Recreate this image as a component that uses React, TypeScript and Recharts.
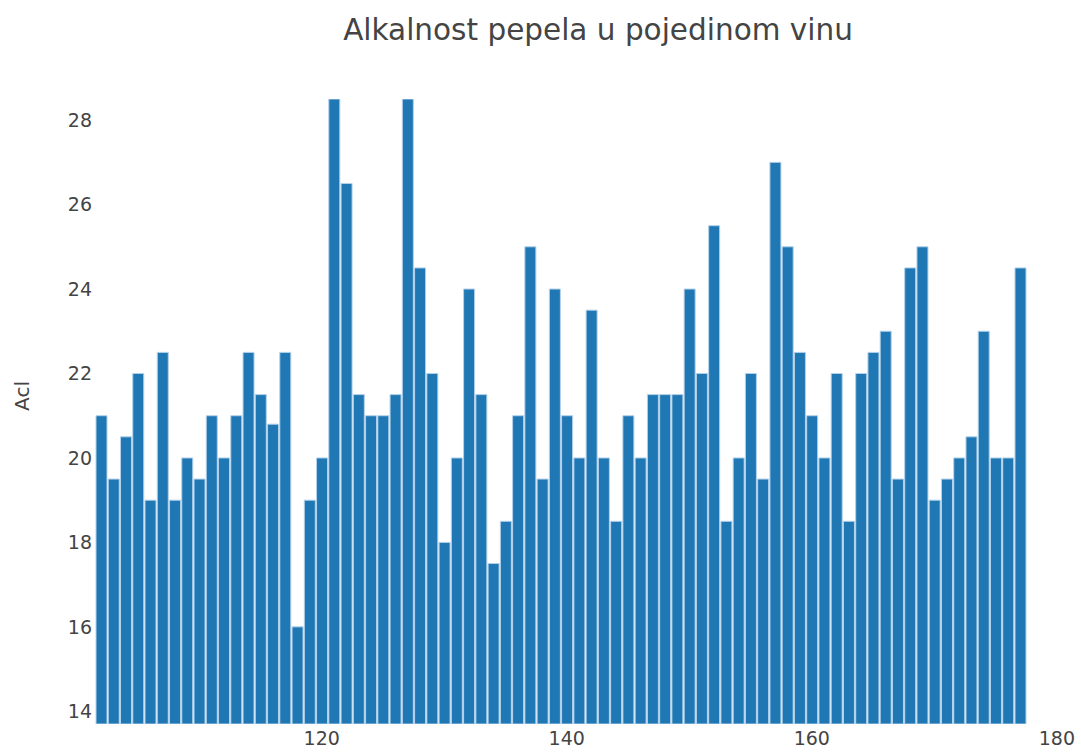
import { BarChart, Bar, XAxis, YAxis } from 'recharts';

// wine index (x) and ash alkalinity (Acl) per wine
const wineIds: number[] = [
    102, 103, 104, 105, 106, 107, 108, 109, 110, 111, 112, 113, 114, 115, 116, 117, 118, 119, 120,
    121, 122, 123, 124, 125, 126, 127, 128, 129, 130, 131, 132, 133, 134, 135, 136, 137, 138, 139,
    140, 141, 142, 143, 144, 145, 146, 147, 148, 149, 150, 151, 152, 153, 154, 155, 156, 157, 158,
    159, 160, 161, 162, 163, 164, 165, 166, 167, 168, 169, 170, 171, 172, 173, 174, 175, 176, 177,
];
const aclValues: number[] = [
    21, 19.5, 20.5, 22, 19, 22.5, 19, 20, 19.5, 21, 20, 21, 22.5, 21.5, 20.8, 22.5, 16, 19, 20,
    28.5, 26.5, 21.5, 21, 21, 21.5, 28.5, 24.5, 22, 18, 20, 24, 21.5, 17.5, 18.5, 21, 25, 19.5, 24,
    21, 20, 23.5, 20, 18.5, 21, 20, 21.5, 21.5, 21.5, 24, 22, 25.5, 18.5, 20, 22, 19.5, 27, 25,
    22.5, 21, 20, 22, 18.5, 22, 22.5, 23, 19.5, 24.5, 25, 19, 19.5, 20, 20.5, 23, 20, 20, 24.5,
];
const xTicks: number[] = [120, 140, 160, 180];
const yTicks: number[] = [14, 16, 18, 20, 22, 24, 26, 28];

const chartTitle = 'Alkalnost pepela u pojedinom vinu';
const yTitle = 'Acl';

const data = wineIds.map((id, i) => ({ x: id, acl: aclValues[i] }));

const fontFamily = '"DejaVu Sans", Verdana, sans-serif';
const textColor = '#444';

function App() {
    return (
        <div style={{ position: 'absolute', left: 0, top: 0, width: 1081, height: 752, background: '#fff' }}>
            <div style={{
                position: 'absolute', left: 0, width: 1196, top: 13, textAlign: 'center',
                fontFamily, fontSize: 29.5, color: textColor, whiteSpace: 'nowrap',
            }}>
                {chartTitle}
            </div>
            <div style={{
                position: 'absolute', left: 22, top: 396, transform: 'translate(-50%, -50%) rotate(-90deg)',
                fontFamily, fontSize: 20, color: textColor,
            }}>
                {yTitle}
            </div>
            <BarChart
                width={1081}
                height={752}
                data={data}
                margin={{ top: 99, right: 18, bottom: 0, left: 0 }}
                barCategoryGap={0}
            >
                <XAxis
                    dataKey="x"
                    type="number"
                    domain={[101.5, 180.5]}
                    ticks={xTicks}
                    allowDataOverflow
                    axisLine={false}
                    tickLine={false}
                    tickSize={0}
                    tickMargin={8}
                    height={28}
                    tick={{ fill: textColor, fontSize: 19, fontFamily }}
                />
                <YAxis
                    type="number"
                    domain={[13.7, 28.5]}
                    ticks={yTicks}
                    allowDataOverflow
                    axisLine={false}
                    tickLine={false}
                    tickSize={0}
                    tickMargin={3}
                    width={95}
                    tick={{ fill: textColor, fontSize: 19, fontFamily }}
                />
                <Bar
                    dataKey="acl"
                    fill="#1f77b4"
                    stroke="#b3d1ea"
                    strokeWidth={1}
                    barSize={11}
                    isAnimationActive={false}
                />
            </BarChart>
        </div>
    );
}

export default App;
